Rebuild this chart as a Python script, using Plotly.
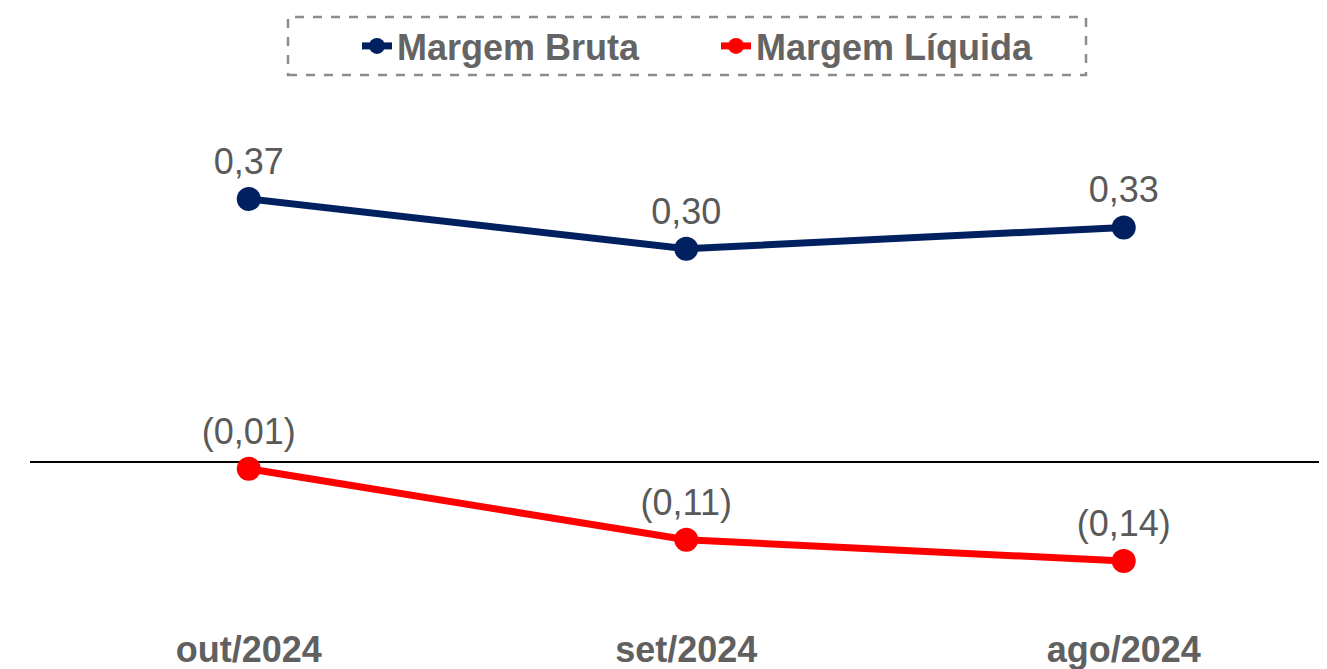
import plotly.graph_objects as go

categories = ["out/2024", "set/2024", "ago/2024"]
margem_bruta = [0.37, 0.30, 0.33]
margem_liquida = [-0.01, -0.11, -0.14]

def fmt(v):
    s = f"{abs(v):.2f}".replace(".", ",")
    return f"({s})" if v < 0 else s

FONT = "Arial, Liberation Sans, sans-serif"
OFF = 8  # default page body margin
WIN_W, WIN_H = 1327, 669
W, H = WIN_W - OFF, WIN_H - OFF
# plot area in window pixels: x 30..1327, y 100..619
L = 30 - OFF
R = 0
T = 100 - OFF
B = H - (619 - OFF)
plot_h = H - T - B
plot_w = W - L - R
PX_PER_CAT = 437.5
PX_PER_UNIT = 710.0
ZERO_Y = 461.7  # window px

fig = go.Figure()
fig.add_trace(go.Scatter(
    x=categories, y=margem_bruta, name="Margem Bruta", mode="lines+markers+text",
    line=dict(color="#002060", width=7), marker=dict(color="#002060", size=24),
    text=[fmt(v) for v in margem_bruta], textposition="top center",
    textfont=dict(family=FONT, size=36, color="#595959"), cliponaxis=False,
))
fig.add_trace(go.Scatter(
    x=categories, y=margem_liquida, name="Margem Líquida", mode="lines+markers+text",
    line=dict(color="#FF0000", width=7), marker=dict(color="#FF0000", size=24),
    text=[fmt(v) for v in margem_liquida], textposition="top center",
    textfont=dict(family=FONT, size=36, color="#595959"), cliponaxis=False,
))

def px_x(p):  # window px -> paper
    return (p - OFF - L) / plot_w

def px_y(p):
    return (H - B - (p - OFF)) / plot_h

fig.add_shape(type="rect", xref="paper", yref="paper",
              x0=px_x(288), x1=px_x(1086), y0=px_y(75), y1=px_y(17),
              line=dict(color="#8c8c8c", width=2.5, dash="dash"), fillcolor="rgba(0,0,0,0)")

fig.update_layout(
    width=W, height=H,
    margin=dict(l=L, r=R, t=T, b=B),
    paper_bgcolor="white", plot_bgcolor="white",
    showlegend=True,
    legend=dict(orientation="h", x=px_x(357), xanchor="left", y=px_y(46), yanchor="middle",
                font=dict(family=FONT, size=36, color="#646464", weight="bold"),
                bgcolor="rgba(0,0,0,0)", entrywidth=314, entrywidthmode="pixels"),
    xaxis=dict(type="category", range=[-0.5, -0.5 + plot_w / PX_PER_CAT], showgrid=False,
               showline=False, ticks="", ticklabelstandoff=6,
               tickfont=dict(family=FONT, size=36, color="#606060", weight="bold")),
    yaxis=dict(range=[-(619 - ZERO_Y) / PX_PER_UNIT, (ZERO_Y - 100) / PX_PER_UNIT], showgrid=False,
               showticklabels=False, zeroline=True, zerolinecolor="#000000", zerolinewidth=2,
               showline=False, ticks=""),
)

fig.write_html("out.html")
